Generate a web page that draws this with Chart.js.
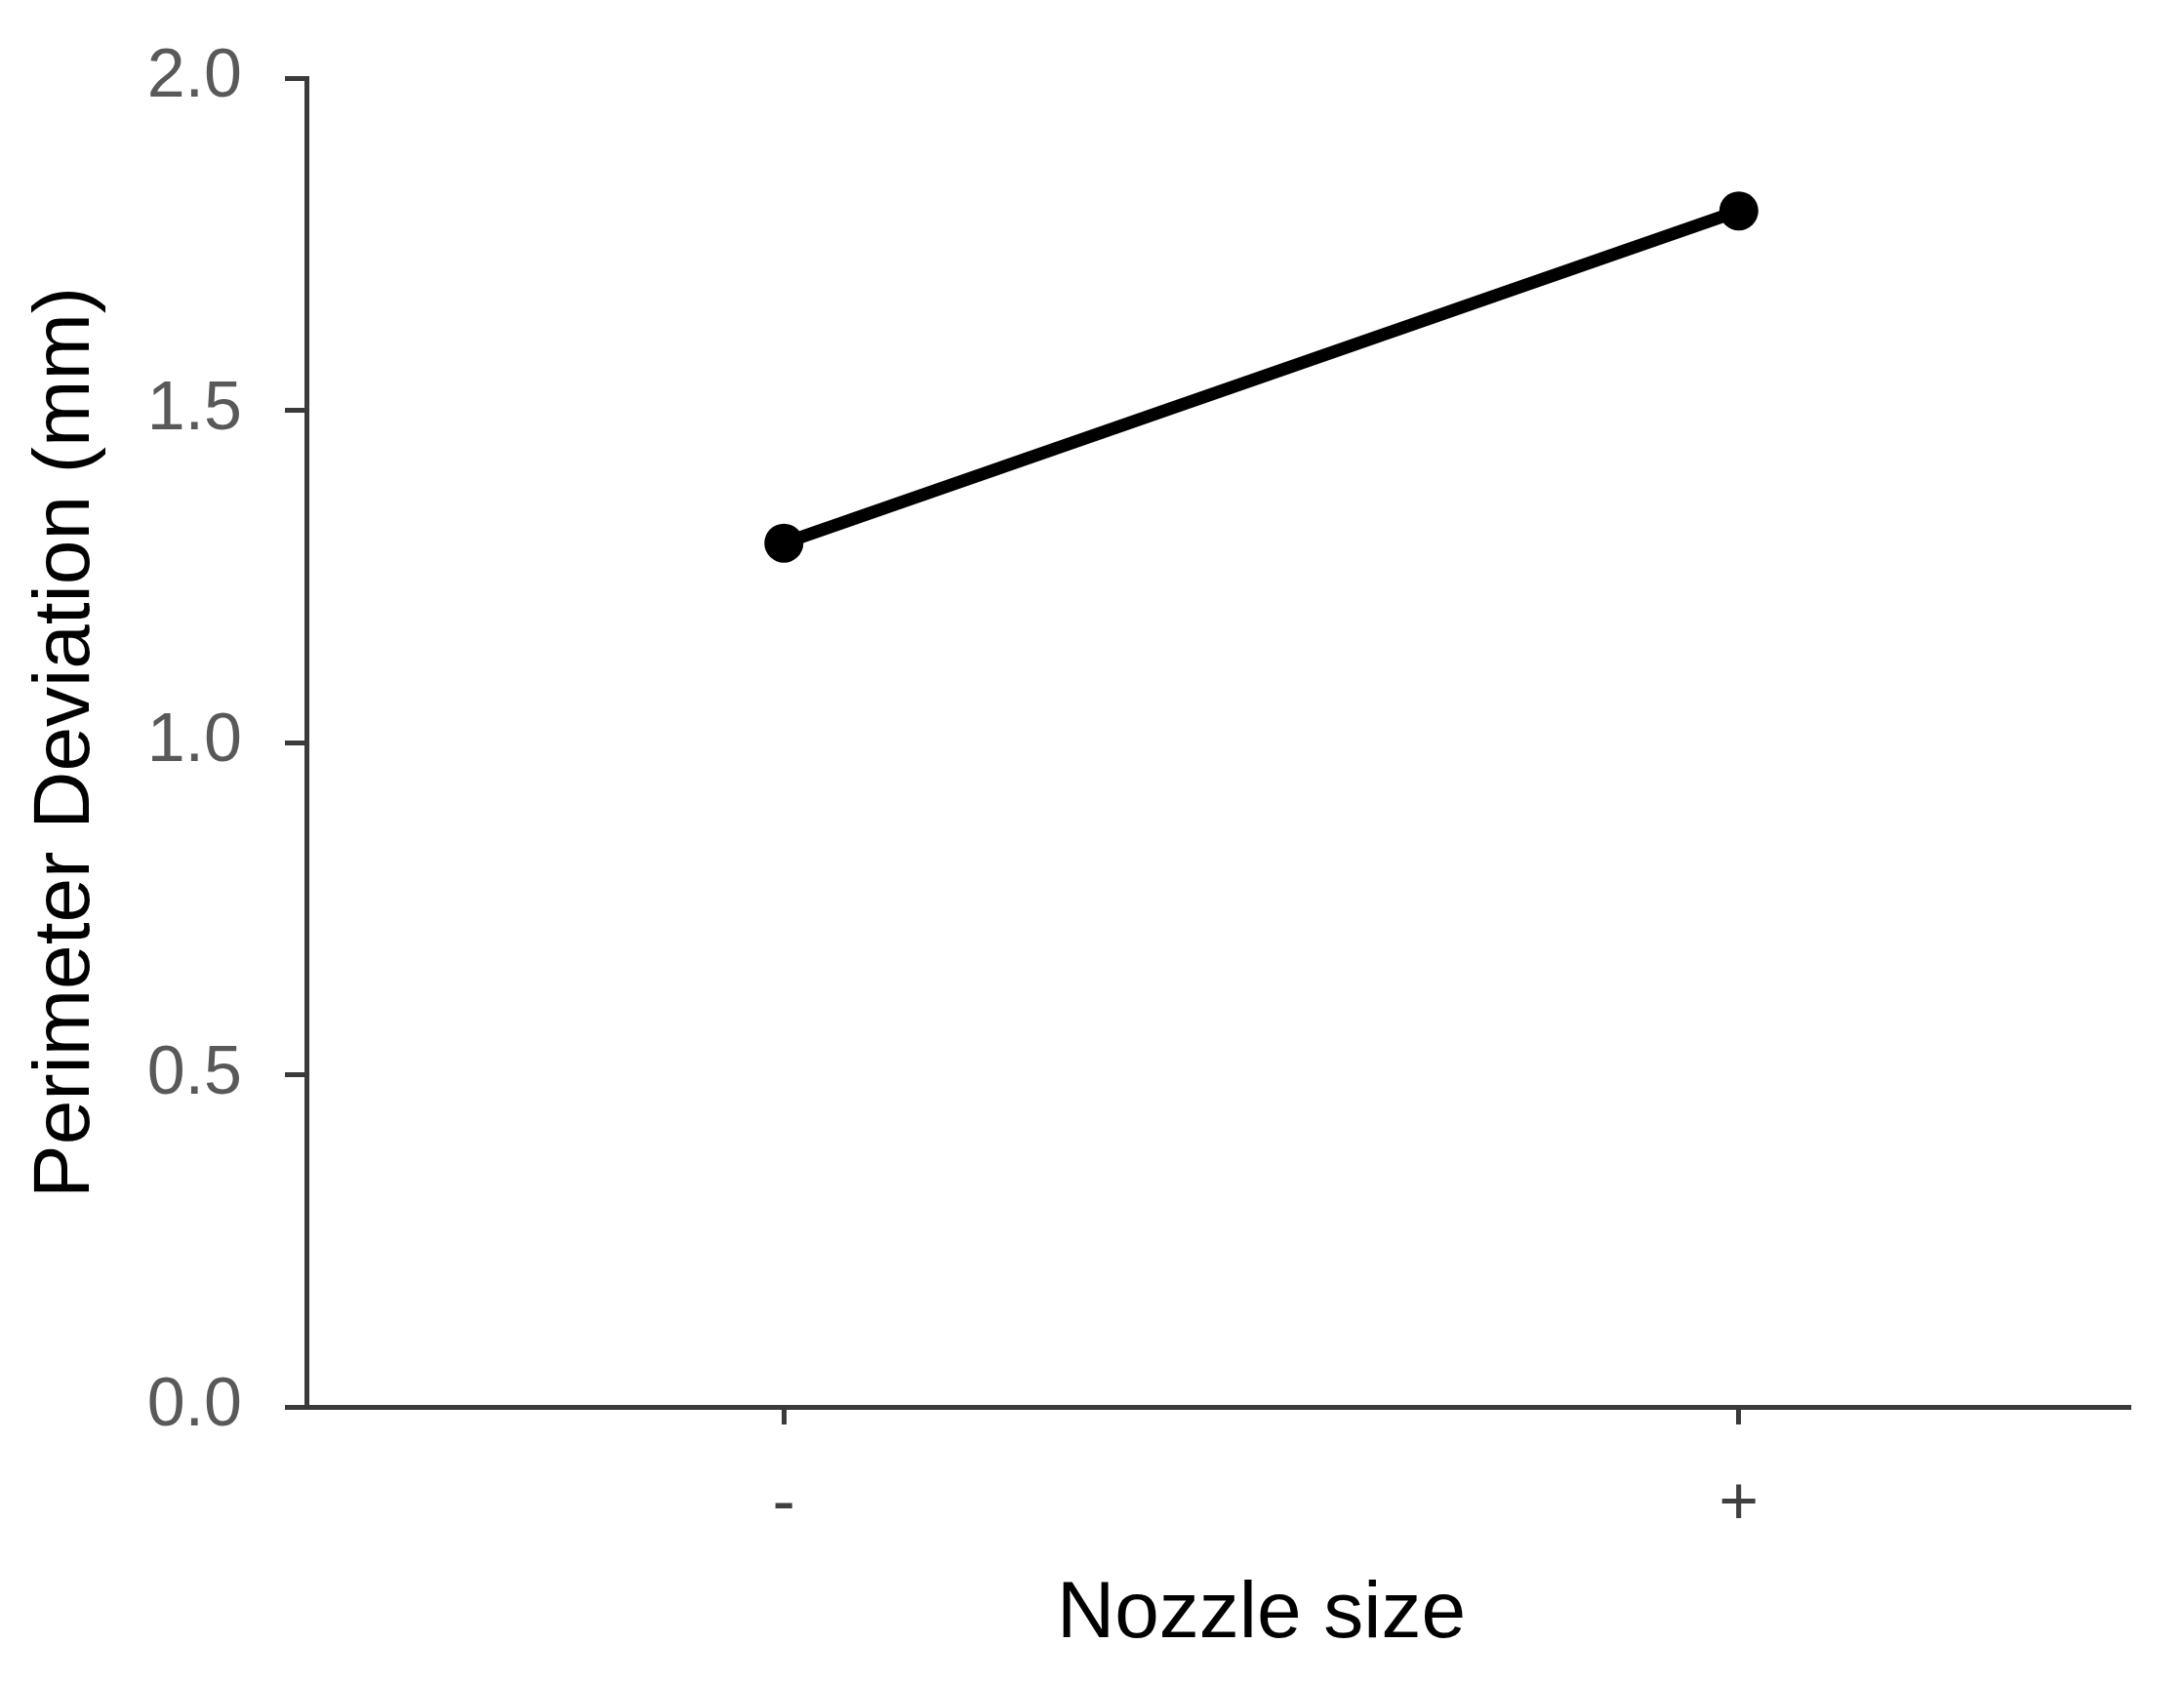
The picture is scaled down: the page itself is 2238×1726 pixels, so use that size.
<!DOCTYPE html>
<html>
<head>
<meta charset="utf-8">
<script src="https://cdn.jsdelivr.net/npm/chart.js@4/dist/chart.umd.min.js"></script>
<style>
html,body{margin:0;padding:0;background:#fff;}
canvas{display:block;}
</style>
</head>
<body>
<canvas id="c" width="2238" height="1726"></canvas>
<script>
const categories = ['-', '+'];
const categoryPositions = [1, 2];
const perimeterDeviation = [1.3, 1.8];
const yTickValues = [0.0, 0.5, 1.0, 1.5, 2.0];
const xTitle = 'Nozzle size';
const yTitle = 'Perimeter Deviation (mm)';

const FONT = "'Liberation Sans', Arial, sans-serif";
const AXIS = '#3a3a3a';

const xTitlePlugin = {
  id: 'xTitlePlugin',
  afterDraw(chart) {
    const xs = chart.scales.x;
    const ctx = chart.ctx;
    const mid = (categoryPositions[0] + categoryPositions[categoryPositions.length - 1]) / 2;
    ctx.save();
    ctx.font = '82px ' + FONT;
    ctx.fillStyle = '#000';
    ctx.textAlign = 'center';
    ctx.textBaseline = 'alphabetic';
    ctx.fillText(xTitle, xs.getPixelForValue(mid), 1678);
    ctx.restore();
  }
};

new Chart(document.getElementById('c'), {
  type: 'line',
  data: {
    datasets: [{
      data: categoryPositions.map((x, i) => ({x: x, y: perimeterDeviation[i]})),
      borderColor: '#000',
      backgroundColor: '#000',
      borderWidth: 13,
      pointRadius: 20,
      pointHoverRadius: 20,
      pointBackgroundColor: '#000',
      pointBorderColor: '#000',
      pointBorderWidth: 0,
      tension: 0,
      clip: false
    }]
  },
  options: {
    responsive: false,
    animation: false,
    events: [],
    layout: { padding: { top: 80, right: 55, left: 0, bottom: 0 } },
    plugins: { legend: { display: false }, tooltip: { enabled: false } },
    scales: {
      x: {
        type: 'linear',
        min: 0.5,
        max: 2.41,
        afterBuildTicks(scale) { scale.ticks = categoryPositions.map(v => ({value: v})); },
        afterFit(scale) { scale.height = 1726 - 1442; scale.paddingLeft = 0; scale.paddingRight = 0; },
        border: { display: true, color: AXIS, width: 5 },
        grid: { drawOnChartArea: false, drawTicks: true, tickLength: 18, tickColor: AXIS, tickWidth: 5 },
        ticks: {
          autoSkip: false,
          maxRotation: 0,
          padding: 41,
          color: '#404040',
          font: { family: FONT, size: 70 },
          callback(value) {
            const i = categoryPositions.indexOf(value);
            return i >= 0 ? categories[i] : '';
          }
        },
        title: { display: false, text: xTitle }
      },
      y: {
        min: 0,
        max: 2,
        afterBuildTicks(scale) { scale.ticks = yTickValues.map(v => ({value: v})); },
        afterFit(scale) { scale.width = 314; scale.paddingTop = 0; scale.paddingBottom = 0; },
        border: { display: true, color: AXIS, width: 5 },
        grid: { drawOnChartArea: false, drawTicks: true, tickLength: 22, tickColor: AXIS, tickWidth: 5 },
        ticks: {
          padding: 44,
          color: '#595959',
          font: { family: FONT, size: 70 },
          callback(value) { return Number(value).toFixed(1); }
        },
        title: {
          display: true,
          text: yTitle,
          color: '#000',
          font: { family: FONT, size: 82, lineHeight: 1.2 },
          padding: { top: 19, bottom: 0 }
        }
      }
    }
  },
  plugins: [xTitlePlugin]
});
</script>
</body>
</html>
